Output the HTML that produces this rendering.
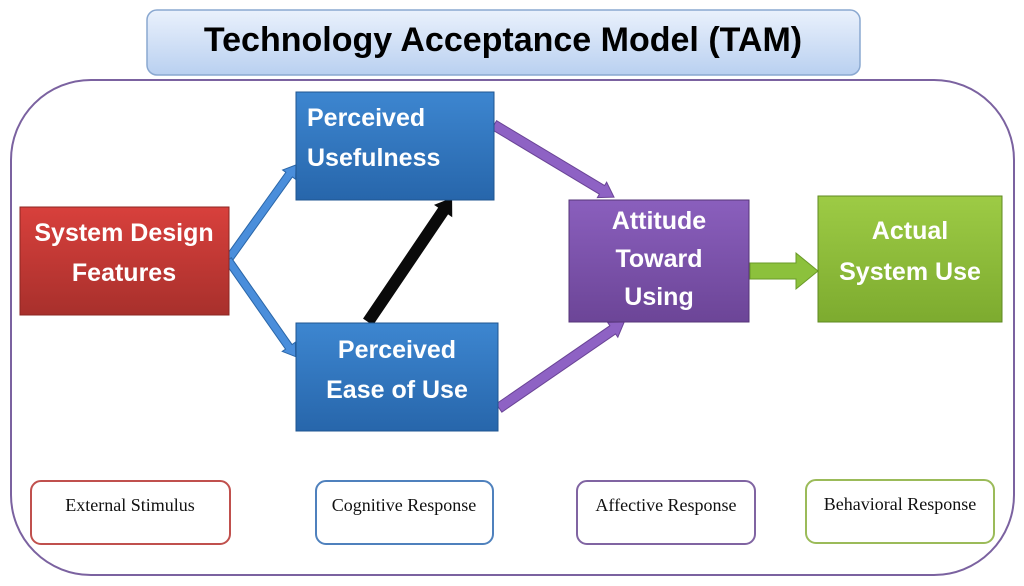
<!DOCTYPE html>
<html><head><meta charset="utf-8"><style>
body{margin:0;width:1024px;height:586px;background:#fff;overflow:hidden}
svg{display:block}
.b{font-family:"Liberation Sans",sans-serif;font-weight:bold;fill:#fff;font-size:25px}
.s{font-family:"Liberation Serif",serif;font-size:18px;fill:#111}
</style></head><body>
<svg width="1024" height="586" viewBox="0 0 1024 586">
<defs>
<linearGradient id="tg" x1="0" y1="0" x2="0" y2="1"><stop offset="0" stop-color="#eaf1fc"/><stop offset="1" stop-color="#b9d0f0"/></linearGradient>
<linearGradient id="rg" x1="0" y1="0" x2="0" y2="1"><stop offset="0" stop-color="#d8403c"/><stop offset="1" stop-color="#a8302c"/></linearGradient>
<linearGradient id="bg" x1="0" y1="0" x2="0" y2="1"><stop offset="0" stop-color="#3d86d0"/><stop offset="1" stop-color="#2766ab"/></linearGradient>
<linearGradient id="pg" x1="0" y1="0" x2="0" y2="1"><stop offset="0" stop-color="#8a5fbd"/><stop offset="1" stop-color="#6c4597"/></linearGradient>
<linearGradient id="gg" x1="0" y1="0" x2="0" y2="1"><stop offset="0" stop-color="#9dcb45"/><stop offset="1" stop-color="#7dab2f"/></linearGradient>
</defs>
<rect x="11" y="80" width="1003" height="495" rx="80" fill="none" stroke="#7b62a0" stroke-width="2"/>
<rect x="147" y="10" width="713" height="65" rx="10" fill="url(#tg)" stroke="#8aa8d0" stroke-width="1.5"/>
<text x="503" y="51" text-anchor="middle" font-family="Liberation Sans,sans-serif" font-weight="bold" font-size="34" fill="#000">Technology Acceptance Model (TAM)</text>

<g fill="#4a8edb" stroke="#2a66a8" stroke-width="1">
<polygon transform="translate(228,260) rotate(-54.4)" points="0,-4 105,-4 105,-8 117,0 105,8 105,4 0,4"/>
<polygon transform="translate(228,260) rotate(55)" points="0,-4 106,-4 106,-8 118,0 106,8 106,4 0,4"/>
</g>
<polygon transform="translate(368,322) rotate(-55.9)" points="0,-6 134,-6 134,-11 150,0 134,11 134,6 0,6" fill="#0a0a0a"/>
<g fill="#8e62c4" stroke="#6a4496" stroke-width="1">
<polygon transform="translate(494,125) rotate(31)" points="0,-5 126,-5 126,-9 140,0 126,9 126,5 0,5"/>
<polygon transform="translate(499,408) rotate(-34.5)" points="0,-5 138,-5 138,-9 152,0 138,9 138,5 0,5"/>
</g>
<polygon points="750,263 796,263 796,253 818,271 796,289 796,279 750,279" fill="#8cc13c" stroke="#6a9a28" stroke-width="1"/>

<rect x="20" y="207" width="209" height="108" fill="url(#rg)" stroke="#8c2622"/>
<text class="b" x="124" y="241" text-anchor="middle">System Design</text>
<text class="b" x="124" y="281" text-anchor="middle">Features</text>

<rect x="296" y="92" width="198" height="108" fill="url(#bg)" stroke="#1f5590"/>
<text class="b" x="307" y="126">Perceived</text>
<text class="b" x="307" y="166">Usefulness</text>

<rect x="296" y="323" width="202" height="108" fill="url(#bg)" stroke="#1f5590"/>
<text class="b" x="397" y="358" text-anchor="middle">Perceived</text>
<text class="b" x="397" y="398" text-anchor="middle">Ease of Use</text>

<rect x="569" y="200" width="180" height="122" fill="url(#pg)" stroke="#553478"/>
<text class="b" x="659" y="229" text-anchor="middle">Attitude</text>
<text class="b" x="659" y="267" text-anchor="middle">Toward</text>
<text class="b" x="659" y="305" text-anchor="middle">Using</text>

<rect x="818" y="196" width="184" height="126" fill="url(#gg)" stroke="#5f8a22"/>
<text class="b" x="910" y="239" text-anchor="middle">Actual</text>
<text class="b" x="910" y="280" text-anchor="middle">System Use</text>

<rect x="31" y="481" width="199" height="63" rx="10" fill="#fff" stroke="#c0504d" stroke-width="2"/>
<text class="s" x="130" y="511" text-anchor="middle">External Stimulus</text>
<rect x="316" y="481" width="177" height="63" rx="10" fill="#fff" stroke="#4f81bd" stroke-width="2"/>
<text class="s" x="404" y="511" text-anchor="middle">Cognitive Response</text>
<rect x="577" y="481" width="178" height="63" rx="10" fill="#fff" stroke="#8064a2" stroke-width="2"/>
<text class="s" x="666" y="511" text-anchor="middle">Affective Response</text>
<rect x="806" y="480" width="188" height="63" rx="10" fill="#fff" stroke="#9bbb59" stroke-width="2"/>
<text class="s" x="900" y="510" text-anchor="middle">Behavioral Response</text>
</svg>
</body></html>
